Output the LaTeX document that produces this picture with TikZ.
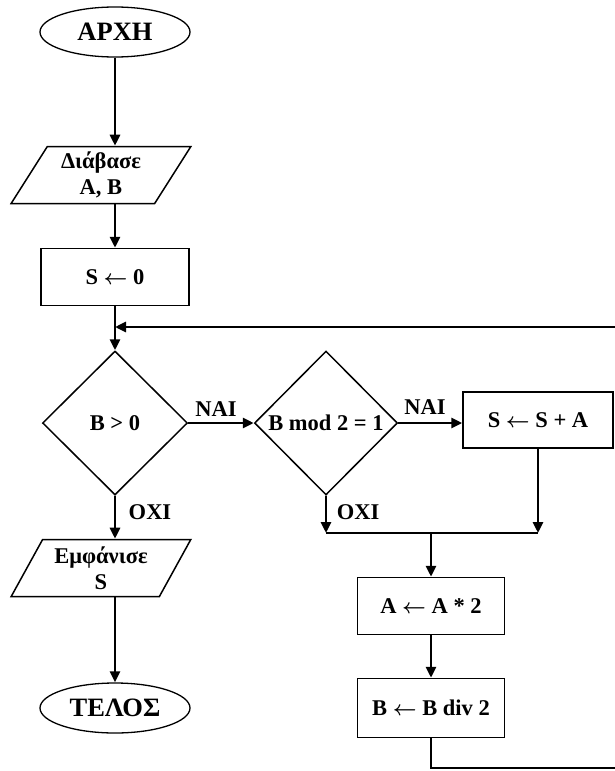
\documentclass[tikz,border=0pt]{standalone}
\usepackage{fontspec}
\setmainfont{Liberation Serif}
\usetikzlibrary{shapes.geometric,arrows.meta}
\newcommand{\lar}{{\boldmath$\leftarrow$}}
\begin{document}
\begin{tikzpicture}[x=1pt,y=-1pt,
  txt/.style={font=\bfseries\fontsize{22.5}{26}\selectfont},
  conn/.style={line width=2.8pt,-{Triangle[length=11pt,width=10pt]}},
  plain/.style={line width=2.8pt},
  term/.style={ellipse,draw,line width=1.3pt,minimum width=150pt,minimum height=50pt,inner sep=0pt,font=\bfseries\fontsize{26.5}{28}\selectfont},
  proc/.style={rectangle,draw,line width=1.5pt,minimum width=148pt,minimum height=57pt,inner sep=0pt,txt},
  io/.style={trapezium,draw,line width=1.5pt,trapezium left angle=60,trapezium right angle=120,trapezium stretches=true,minimum width=180pt,minimum height=57pt,inner sep=0pt,align=center,font=\bfseries\fontsize{22.5}{26.5}\selectfont},
  dec/.style={diamond,draw,line width=1.5pt,minimum width=145pt,minimum height=144pt,inner sep=0pt,txt},
  lbl/.style={txt}
]
\useasboundingbox[fill=white] (0,0) rectangle (614,771);

\node[term] (start) at (115,32) {ΑΡΧΗ};
\node[io] (read) at (101,175) {Διάβασε\\A, B};
\node[proc] (init) at (115,277) {S \lar\ 0};
\node[dec] (dec1) at (115,423) {B > 0};
\node[dec,minimum width=143pt] (dec2) at (326,423) {B mod 2 = 1};
\node[proc,minimum width=150pt,minimum height=56pt] (add) at (538,420) {S \lar\ S + A};
\node[proc,minimum width=147pt] (mul) at (431,606) {A \lar\ A * 2};
\node[proc,minimum width=147pt,minimum height=59pt] (div) at (431,708) {B \lar\ B div 2};
\node[io] (out) at (101,568) {Εμφάνισε\\S};
\node[term] (end) at (115,708) {ΤΕΛΟΣ};

\node[lbl] (yes1) at (216,409) {ΝΑΙ};
\node[lbl] (yes2) at (425,407) {ΝΑΙ};
\node[lbl] (no1) at (150,512) {ΟΧΙ};
\node[lbl] (no2) at (358,512) {ΟΧΙ};

\coordinate (lp) at (115,327);
\coordinate (rt) at (620,327);
\coordinate (rb) at (620,768);
\coordinate (mg) at (431,533);

\draw[conn] (start.south) -- (start.south |- read.north);
\draw[conn] (init.north |- read.south) -- (init.north);
\draw[conn] (init.south) -- (dec1.north);
\draw[conn] (div.south) -- (div.south |- rb) -- (rb) -- (rt) -- (lp);
\draw[conn] (dec1.east) -- (dec2.west);
\draw[conn] (dec2.east) -- (dec2.east -| add.west);
\draw[conn] (dec2.south) -- (dec2.south |- mg);
\draw[conn] (add.south) -- (add.south |- mg);
\draw[plain] (dec2.south |- mg) -- (add.south |- mg);
\draw[conn] (mg) -- (mul.north);
\draw[conn] (mul.south) -- (div.north);
\draw[conn] (dec1.south) -- (dec1.south |- out.north);
\draw[conn] (end.north |- out.south) -- (end.north);
\end{tikzpicture}
\end{document}
